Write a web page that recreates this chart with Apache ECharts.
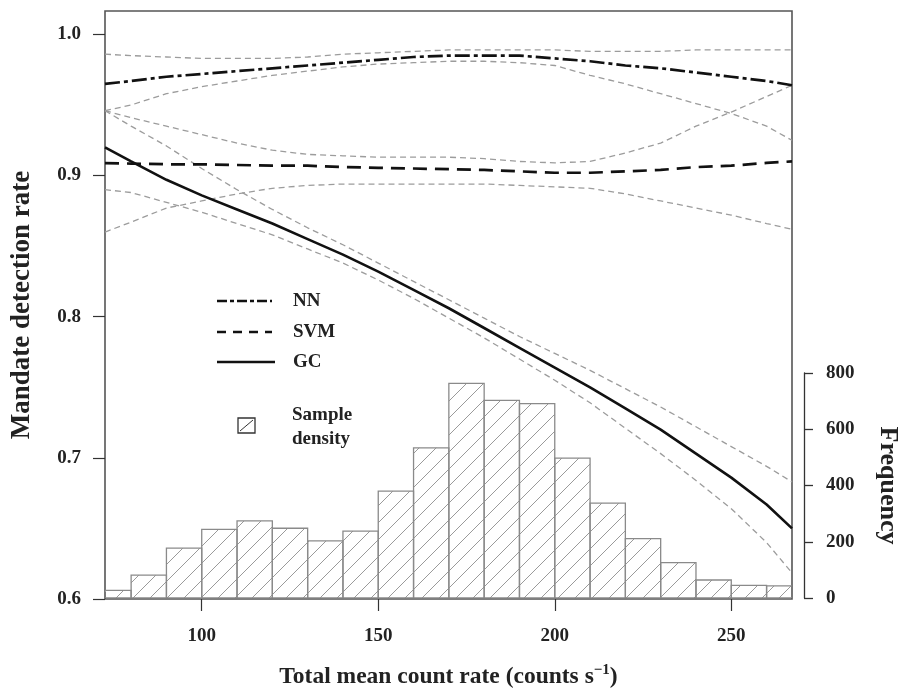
<!DOCTYPE html>
<html>
<head>
<meta charset="utf-8">
<script src="https://cdn.jsdelivr.net/npm/echarts@6/dist/echarts.min.js"></script>
<style>
html,body{margin:0;padding:0;background:#fff;}
#chart{width:901px;height:690px;}
</style>
</head>
<body>
<div id="chart"></div>
<script>
// ---------- data ----------
const xTicks = [100, 150, 200, 250];
const yTicks = [0.6, 0.7, 0.8, 0.9, 1.0];
const freqTicks = [0, 200, 400, 600, 800];

const xs    = [72.6, 80, 90, 100, 110, 120, 130, 140, 150, 160, 170, 180, 190, 200, 210, 220, 230, 240, 250, 260, 267.2];
const nn    = [0.965, 0.967, 0.970, 0.972, 0.974, 0.976, 0.978, 0.980, 0.982, 0.984, 0.985, 0.985, 0.985, 0.983, 0.981, 0.978, 0.976, 0.973, 0.970, 0.967, 0.964];
const nnHi  = [0.986, 0.985, 0.984, 0.983, 0.983, 0.983, 0.984, 0.986, 0.987, 0.988, 0.989, 0.989, 0.989, 0.989, 0.988, 0.988, 0.988, 0.989, 0.989, 0.989, 0.989];
const nnLo  = [0.946, 0.950, 0.958, 0.963, 0.967, 0.971, 0.974, 0.977, 0.979, 0.980, 0.981, 0.981, 0.980, 0.978, 0.971, 0.965, 0.958, 0.951, 0.944, 0.935, 0.925];
const svm   = [0.9088, 0.9085, 0.908, 0.908, 0.9075, 0.907, 0.907, 0.906, 0.9055, 0.905, 0.9045, 0.904, 0.903, 0.902, 0.902, 0.903, 0.904, 0.906, 0.907, 0.909, 0.910];
const svmHi = [0.946, 0.941, 0.935, 0.929, 0.923, 0.918, 0.915, 0.914, 0.913, 0.913, 0.913, 0.912, 0.910, 0.909, 0.910, 0.916, 0.923, 0.935, 0.945, 0.956, 0.964];
const svmLo = [0.860, 0.867, 0.877, 0.882, 0.887, 0.891, 0.893, 0.894, 0.894, 0.894, 0.894, 0.894, 0.893, 0.892, 0.891, 0.887, 0.882, 0.877, 0.872, 0.866, 0.862];
const gc    = [0.920, 0.910, 0.897, 0.886, 0.876, 0.866, 0.855, 0.844, 0.832, 0.819, 0.806, 0.792, 0.778, 0.764, 0.750, 0.735, 0.720, 0.703, 0.686, 0.667, 0.650];
const gcHi  = [0.946, 0.935, 0.921, 0.905, 0.890, 0.876, 0.863, 0.851, 0.838, 0.825, 0.812, 0.799, 0.786, 0.774, 0.762, 0.749, 0.736, 0.722, 0.708, 0.694, 0.683];
const gcLo  = [0.890, 0.888, 0.881, 0.874, 0.866, 0.858, 0.848, 0.838, 0.826, 0.813, 0.799, 0.785, 0.770, 0.755, 0.739, 0.721, 0.703, 0.684, 0.664, 0.640, 0.6185];

const binEdges = [70, 80, 90, 100, 110, 120, 130, 140, 150, 160, 170, 180, 190, 200, 210, 220, 230, 240, 250, 260, 270];
const counts   = [27, 81, 177, 244, 274, 248, 203, 238, 380, 534, 763, 703, 691, 497, 337, 211, 126, 64, 45, 43];

const legendNames = ['NN', 'SVM', 'GC'];
// ---------- chart ----------
const FONT = '"Liberation Serif", "Times New Roman", serif';
const TXT = '#222';

function hatch(period) {
  const c = document.createElement('canvas');
  c.width = period; c.height = period;
  const g = c.getContext('2d');
  g.strokeStyle = '#9a9a9a';
  g.lineWidth = 1;
  g.beginPath();
  g.moveTo(0, period); g.lineTo(period, 0);
  g.moveTo(-2, 2); g.lineTo(2, -2);
  g.moveTo(period - 2, period + 2); g.lineTo(period + 2, period - 2);
  g.stroke();
  return c;
}
const hatchCanvas = hatch(17);

const pairs = arr => xs.map((x, i) => [x, arr[i]]);
const ciStyle = { color: '#9c9c9c', width: 1.3, type: [6, 4] };

function ciSeries(arr) {
  return { type: 'line', data: pairs(arr), showSymbol: false, symbol: 'none', silent: true, z: 3,
           lineStyle: ciStyle, xAxisIndex: 0, yAxisIndex: 0 };
}

const chart = echarts.init(document.getElementById('chart'), null, { renderer: 'canvas' });

const option = {
  backgroundColor: '#fff',
  animation: false,
  grid: [
    { left: 105, right: 109, top: 11, bottom: 91, outerBoundsMode: 'none', containLabel: false,
      show: true, borderColor: '#555', borderWidth: 1.6, backgroundColor: 'transparent' },
    { left: 105, right: 109, top: 373, bottom: 92, outerBoundsMode: 'none', containLabel: false }
  ],
  xAxis: [
    { type: 'value', gridIndex: 0, min: 72.6, max: 267.2,
      splitLine: { show: false },
      axisLine: { show: false },
      axisTick: { show: true, customValues: xTicks, length: 12, lineStyle: { color: '#333', width: 1.2 } },
      axisLabel: { customValues: xTicks, margin: 28, color: TXT, fontFamily: FONT, fontWeight: 'bold', fontSize: 19 },
      name: 'Total mean count rate (counts s{sup|−1})',
      nameLocation: 'middle', nameGap: 64,
      nameTextStyle: { color: TXT, fontFamily: FONT, fontWeight: 'bold', fontSize: 23.5,
        rich: { sup: { fontFamily: FONT, fontWeight: 'bold', fontSize: 15, color: TXT, verticalAlign: 'top', padding: [0, 0, 13, 0] } } }
    },
    { type: 'value', gridIndex: 1, min: 72.6, max: 267.2, show: false }
  ],
  yAxis: [
    { type: 'value', gridIndex: 0, min: 0.6, max: 1.0166,
      splitLine: { show: false },
      axisLine: { show: false },
      axisTick: { show: true, customValues: yTicks, length: 12, lineStyle: { color: '#333', width: 1.2 } },
      axisLabel: { customValues: yTicks, margin: 24, color: TXT, fontFamily: FONT, fontWeight: 'bold', fontSize: 19,
                   formatter: v => v.toFixed(1) },
      name: 'Mandate detection rate', nameLocation: 'middle', nameGap: 69, nameRotate: 90,
      nameTextStyle: { color: TXT, fontFamily: FONT, fontWeight: 'bold', fontSize: 27 }
    },
    { type: 'value', gridIndex: 1, min: 0, max: 800, interval: 200, position: 'right', offset: 12,
      splitLine: { show: false },
      axisLine: { show: true, lineStyle: { color: '#333', width: 1.3 } },
      axisTick: { show: true, length: 9, lineStyle: { color: '#333', width: 1.3 } },
      axisLabel: { margin: 22, color: TXT, fontFamily: FONT, fontWeight: 'bold', fontSize: 19 },
      name: 'Frequency', nameLocation: 'middle', nameGap: 71, nameRotate: -90,
      nameTextStyle: { color: TXT, fontFamily: FONT, fontWeight: 'bold', fontSize: 26 }
    }
  ],
  series: [
    { type: 'custom', xAxisIndex: 1, yAxisIndex: 1, clip: true, z: 1, silent: true,
      data: counts.map((c, i) => [binEdges[i], binEdges[i + 1], c]),
      encode: { x: [0, 1], y: 2 },
      renderItem: function (params, api) {
        const p0 = api.coord([api.value(0), 0]);
        const p1 = api.coord([api.value(1), api.value(2)]);
        return { type: 'rect',
          shape: { x: p0[0], y: p1[1], width: p1[0] - p0[0], height: p0[1] - p1[1] },
          style: { fill: { image: hatchCanvas, repeat: 'repeat' }, stroke: '#8a8a8a', lineWidth: 1.3 } };
      }
    },
    ciSeries(nnHi), ciSeries(nnLo), ciSeries(svmHi), ciSeries(svmLo), ciSeries(gcHi), ciSeries(gcLo),
    { name: legendNames[0], type: 'line', data: pairs(nn), showSymbol: false, symbol: 'none', z: 4,
      lineStyle: { color: '#111', width: 2.7, type: [15, 4, 4, 4] } },
    { name: legendNames[1], type: 'line', data: pairs(svm), showSymbol: false, symbol: 'none', z: 4,
      lineStyle: { color: '#111', width: 2.7, type: [14, 8] } },
    { name: legendNames[2], type: 'line', data: pairs(gc), showSymbol: false, symbol: 'none', z: 4,
      lineStyle: { color: '#111', width: 2.6 } }
  ],
  graphic: [
    { type: 'line', shape: { x1: 217, y1: 301, x2: 272, y2: 301 }, style: { stroke: '#111', lineWidth: 2.6, lineDash: [10, 3, 4, 3] } },
    { type: 'line', shape: { x1: 217, y1: 332, x2: 272, y2: 332 }, style: { stroke: '#111', lineWidth: 2.6, lineDash: [9, 7] } },
    { type: 'line', shape: { x1: 217, y1: 362, x2: 275, y2: 362 }, style: { stroke: '#111', lineWidth: 2.6 } },
    { type: 'text', x: 293, y: 301, style: { text: legendNames[0], font: 'bold 19px ' + FONT, fill: TXT, verticalAlign: 'middle' } },
    { type: 'text', x: 293, y: 332, style: { text: legendNames[1], font: 'bold 19px ' + FONT, fill: TXT, verticalAlign: 'middle' } },
    { type: 'text', x: 293, y: 362, style: { text: legendNames[2], font: 'bold 19px ' + FONT, fill: TXT, verticalAlign: 'middle' } },
    { type: 'rect', shape: { x: 238, y: 418, width: 17, height: 15 }, style: { fill: '#fff', stroke: '#333', lineWidth: 1.3 } },
    { type: 'line', shape: { x1: 240, y1: 431, x2: 253, y2: 420 }, style: { stroke: '#333', lineWidth: 1 } },
    { type: 'text', x: 292, y: 415, style: { text: 'Sample', font: 'bold 19px ' + FONT, fill: TXT, verticalAlign: 'middle' } },
    { type: 'text', x: 292, y: 439, style: { text: 'density', font: 'bold 19px ' + FONT, fill: TXT, verticalAlign: 'middle' } }
  ]
};
chart.setOption(option);
</script>
</body>
</html>
